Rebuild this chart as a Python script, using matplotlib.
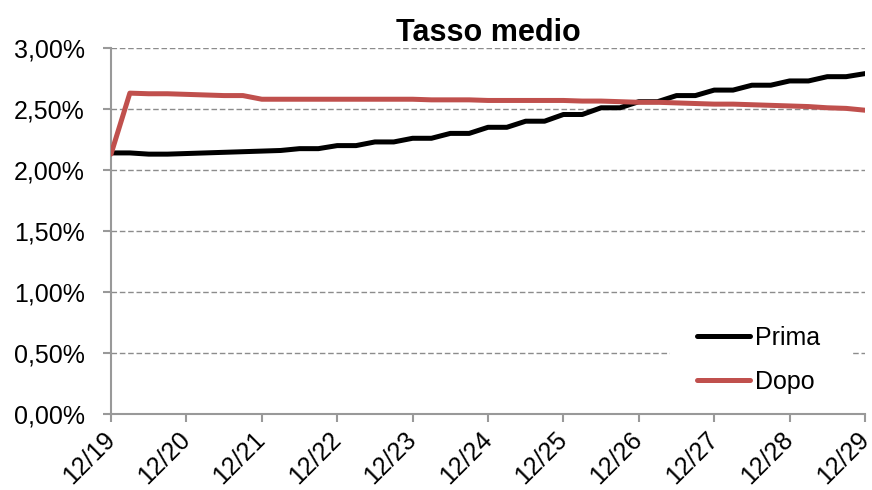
import matplotlib
matplotlib.use("Agg")
import matplotlib.pyplot as plt
from matplotlib.ticker import FuncFormatter, MultipleLocator
from matplotlib.patches import Rectangle
from matplotlib.transforms import ScaledTranslation
import numpy as np

plt.rcParams['font.family'] = ['Liberation Sans', 'DejaVu Sans']

tick_labels = ["12/19", "12/20", "12/21", "12/22", "12/23", "12/24",
               "12/25", "12/26", "12/27", "12/28", "12/29"]

prima = [2.14, 2.14, 2.13, 2.13, 2.135, 2.14, 2.145, 2.15, 2.155, 2.16,
         2.175, 2.175, 2.20, 2.20, 2.23, 2.23, 2.26, 2.26, 2.30, 2.30,
         2.35, 2.35, 2.40, 2.40, 2.455, 2.455, 2.51, 2.51, 2.56, 2.56,
         2.61, 2.61, 2.655, 2.655, 2.695, 2.695, 2.73, 2.73, 2.765, 2.765,
         2.79]
dopo = [2.13, 2.63, 2.625, 2.625, 2.62, 2.615, 2.61, 2.61, 2.58, 2.58,
        2.58, 2.58, 2.58, 2.58, 2.58, 2.58, 2.58, 2.575, 2.575, 2.575,
        2.57, 2.57, 2.57, 2.57, 2.57, 2.565, 2.565, 2.56, 2.555, 2.555,
        2.55, 2.545, 2.54, 2.54, 2.535, 2.53, 2.525, 2.52, 2.51, 2.505,
        2.49]

x = np.arange(len(prima)) / 4.0

W, H = 872, 490
L, R, B, T = 111, 865, 414, 48
fig = plt.figure(figsize=(W/100, H/100), dpi=100)
ax = fig.add_axes([L/W, 1 - B/H, (R-L)/W, (B-T)/H])

ax.plot(x, prima, color='black', lw=3.6, solid_capstyle='round', label='Prima', zorder=3)
ax.plot(x, dopo, color='#c0504d', lw=3.6, solid_capstyle='round', label='Dopo', zorder=3)

ax.set_xlim(0, 10)
ax.set_ylim(0, 3.0)
ax.yaxis.set_major_locator(MultipleLocator(0.5))
ax.yaxis.set_major_formatter(FuncFormatter(lambda v, p: f"{v:.2f}%".replace('.', ',')))
ax.set_xticks(np.arange(len(tick_labels)))
ax.set_xticklabels(tick_labels, rotation=45, ha='right', va='center', rotation_mode='anchor')
shift = ScaledTranslation(5/100, 0, fig.dpi_scale_trans)
for lab in ax.get_xticklabels():
    lab.set_transform(lab.get_transform() + shift)

ax.grid(axis='y', color='#8c8c8c', linestyle=(0, (4, 2)), lw=1)
ax.set_axisbelow(True)
for s in ['top', 'right']:
    ax.spines[s].set_visible(False)
for s in ['left', 'bottom']:
    ax.spines[s].set_color('#999999')
    ax.spines[s].set_linewidth(1.5)
ax.tick_params(axis='both', colors='#999999', labelcolor='black', labelsize=18,
               length=6, width=1.5, direction='out')
ax.tick_params(axis='x', pad=10)
ax.tick_params(axis='y', pad=13)

ax.set_title("Tasso medio", fontsize=22, fontweight='bold', pad=3.8)

# white background behind the legend (covers the gridline as in the reference)
ax.add_patch(Rectangle(((670 - L) / (R - L), (B - 398) / (B - T)),
                       (853 - 670) / (R - L), (398 - 318) / (B - T),
                       transform=ax.transAxes, facecolor='white',
                       edgecolor='none', zorder=1))

leg = ax.legend(loc='lower left', bbox_to_anchor=((697 - L) / (R - L), (B - 394) / (B - T)),
                frameon=False, fontsize=18, handlelength=2.1, handletextpad=0.2,
                borderaxespad=0, borderpad=0, labelspacing=0.82)

fig.savefig("out.png", dpi=100)
